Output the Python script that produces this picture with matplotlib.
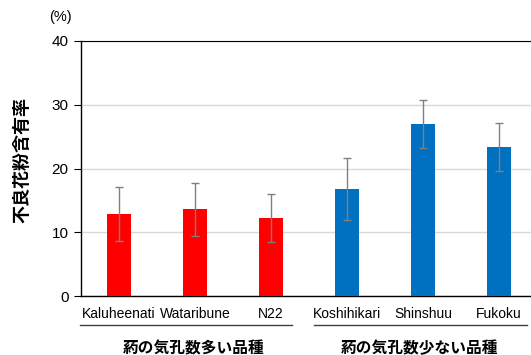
import matplotlib
matplotlib.use("Agg")
import matplotlib.pyplot as plt

plt.rcParams['font.family'] = ['Noto Sans CJK JP', 'DejaVu Sans']

categories = ["Kaluheenati", "Wataribune", "N22", "Koshihikari", "Shinshuu", "Fukoku"]
values = [12.85, 13.6, 12.2, 16.8, 27.0, 23.4]
err = [4.2, 4.2, 3.8, 4.9, 3.8, 3.8]
colors = ["#ff0000"] * 3 + ["#0070c0"] * 3
groups = ["葯の気孔数多い品種", "葯の気孔数少ない品種"]
ylabel = "不良花粉含有率"

W, H = 531, 355
fig = plt.figure(figsize=(W / 100, H / 100), dpi=100)
ax = fig.add_axes([81 / W, 1 - 296 / H, (537 - 81) / W, (296 - 41) / H])

x = list(range(len(categories)))
ax.bar(x, values, width=0.32, color=colors, zorder=3)
ax.errorbar(x, values, yerr=err, fmt='none', ecolor='#808080', elinewidth=1.0,
            capsize=3, capthick=1.0, zorder=4)

ax.set_xlim(-0.5, 5.5)
ax.set_ylim(0, 40)
ax.set_yticks([0, 10, 20, 30, 40])
ax.tick_params(axis='y', labelsize=11, length=5, width=0.8, color='black', pad=4)
ax.set_xticks(x)
ax.set_xticklabels(categories, fontsize=10, family=['Liberation Sans', 'DejaVu Sans'])
ax.tick_params(axis='x', length=0, pad=8)
for lab in ax.get_yticklabels():
    lab.set_family(['Liberation Sans', 'DejaVu Sans'])

ax.grid(axis='y', color='#d9d9d9', linewidth=1.0, zorder=0)
ax.spines['right'].set_visible(False)
ax.spines['top'].set_color('black')
ax.spines['left'].set_linewidth(1.0)
ax.spines['bottom'].set_linewidth(1.0)

fig.text(60 / W, 1 - 17 / H, "(%)", fontsize=10.5, ha='center', va='center',
         family=['Liberation Sans', 'DejaVu Sans'])
fig.text(22 / W, 1 - 160 / H, ylabel, fontsize=13, fontweight='bold', rotation=90,
         ha='center', va='center')

# group underline and labels
fig.add_artist(plt.Line2D([80 / W, 292 / W], [1 - 325 / H, 1 - 325 / H], color='#404040', linewidth=1.0))
fig.add_artist(plt.Line2D([314 / W, 527 / W], [1 - 325 / H, 1 - 325 / H], color='#404040', linewidth=1.0))
fig.text(194 / W, 1 - 348 / H, groups[0], fontsize=11.3, fontweight='bold', ha='center', va='center')
fig.text(420 / W, 1 - 348 / H, groups[1], fontsize=11.3, fontweight='bold', ha='center', va='center')

fig.savefig("out.png", dpi=100)
